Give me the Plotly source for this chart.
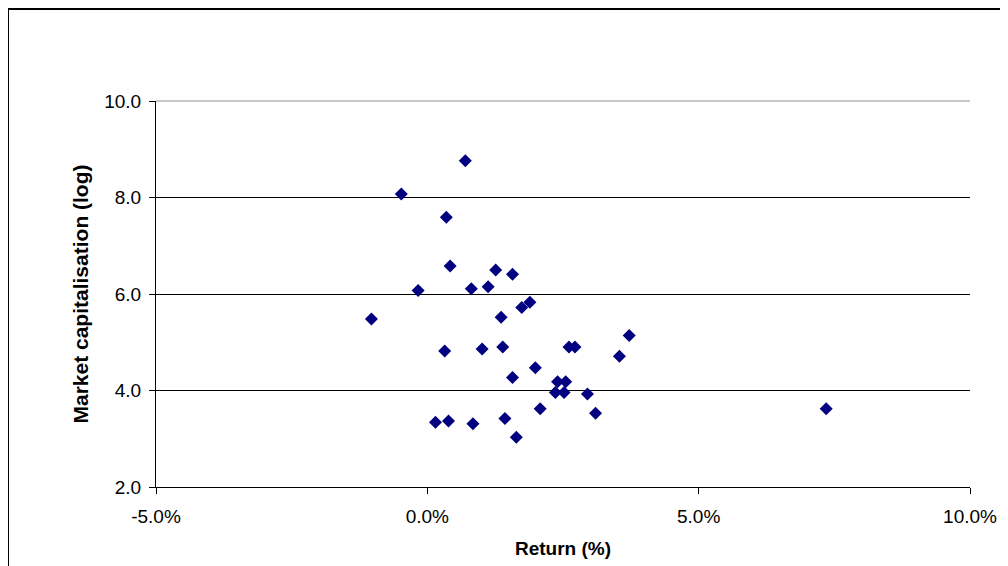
import plotly.graph_objects as go

# Return (%) and market capitalisation (log) for each company
returns = [0.70, -0.48, 0.35, 0.42, 1.26, 1.57, -0.17, 0.81, 1.12, 1.89,
           1.74, -1.03, 1.36, 0.32, 1.01, 1.39, 2.61, 2.72, 3.72, 3.54,
           1.99, 1.57, 2.40, 2.55, 2.36, 2.52, 2.95, 3.10, 2.08, 1.43,
           0.15, 0.39, 0.84, 1.64, 7.35]
market_cap_log = [8.76, 8.07, 7.59, 6.58, 6.50, 6.41, 6.07, 6.11, 6.15, 5.83,
                  5.72, 5.48, 5.52, 4.82, 4.86, 4.90, 4.90, 4.90, 5.14, 4.71,
                  4.47, 4.27, 4.18, 4.18, 3.96, 3.96, 3.93, 3.53, 3.62, 3.42,
                  3.34, 3.37, 3.31, 3.03, 3.62]

x_ticks = [-5, 0, 5, 10]
x_tick_labels = ["-5.0%", "0.0%", "5.0%", "10.0%"]
y_ticks = [2, 4, 6, 8, 10]
y_tick_labels = ["2.0", "4.0", "6.0", "8.0", "10.0"]

FONT = "Liberation Sans, Arial, sans-serif"

fig = go.Figure()
fig.add_trace(go.Scatter(
    x=returns, y=market_cap_log, mode="markers",
    marker=dict(symbol="diamond", size=10, color="#000080",
                line=dict(width=0)),
    showlegend=False, hoverinfo="x+y",
))

fig.update_layout(
    width=1008, height=566,
    margin=dict(l=148, r=46, t=93, b=87),
    paper_bgcolor="white", plot_bgcolor="white",
    font=dict(family=FONT, size=19, color="black"),
    xaxis=dict(
        range=[-5, 10], tickvals=x_ticks, ticktext=x_tick_labels,
        showgrid=False, zeroline=False, showline=True, linecolor="black",
        linewidth=1, ticks="outside", ticklen=6, tickcolor="black",
        tickfont=dict(family=FONT, size=19), ticklabelstandoff=6,
        title=dict(text="<b>Return (%)</b>", font=dict(family=FONT, size=19),
                   standoff=15),
    ),
    yaxis=dict(
        range=[2, 10], tickvals=y_ticks, ticktext=y_tick_labels,
        showgrid=True, gridcolor="black", gridwidth=1,
        zeroline=False, showline=True, linecolor="black", linewidth=1,
        ticks="outside", ticklen=6, tickcolor="black",
        tickfont=dict(family=FONT, size=19), ticklabelstandoff=4,
        title=dict(text="<b>Market capitalisation (log)</b>",
                   font=dict(family=FONT, size=21), standoff=9),
    ),
    shapes=[
        # light grey top border of plot area at 10.0
        dict(type="line", xref="paper", yref="paper", x0=0, x1=1, y0=1, y1=1,
             line=dict(color="#c8c8c8", width=2), layer="above"),
        # outer chart border
        dict(type="rect", xref="paper", yref="paper",
             x0=(8 - 156) / 814, x1=(1030 - 156) / 814,
             y0=(487 - 600) / 386, y1=(487 - 9) / 386,
             line=dict(color="black", width=2), fillcolor="rgba(0,0,0,0)",
             layer="below"),
    ],
)

fig.write_html("out.html")
